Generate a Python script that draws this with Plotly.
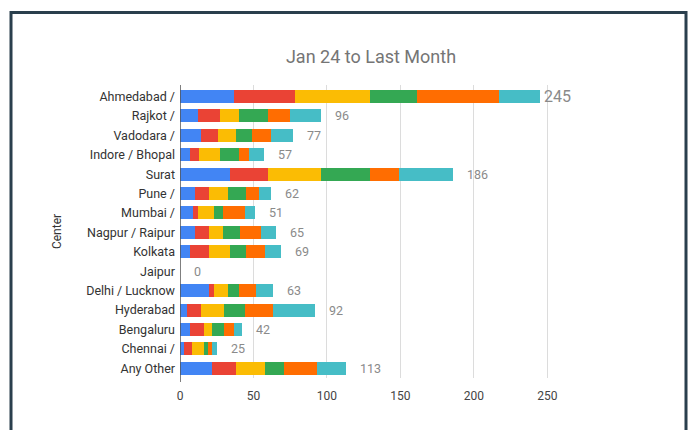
import plotly.graph_objects as go

centers = ["Ahmedabad /", "Rajkot /", "Vadodara /", "Indore / Bhopal", "Surat", "Pune /",
           "Mumbai /", "Nagpur / Raipur", "Kolkata", "Jaipur", "Delhi / Lucknow",
           "Hyderabad", "Bengaluru", "Chennai /", "Any Other"]

s1 = [37, 12, 14, 7, 34, 10, 9, 10, 7, 0, 20, 5, 7, 3, 22]
s2 = [41, 15, 12, 6, 26, 10, 3, 10, 13, 0, 3, 9, 9, 5, 16]
s3 = [51, 13, 12, 14, 36, 13, 11, 9, 14, 0, 10, 16, 6, 8, 20]
s4 = [32, 20, 11, 13, 33, 12, 6, 12, 11, 0, 7, 14, 8, 3, 13]
s5 = [56, 15, 13, 7, 20, 9, 15, 14, 13, 0, 12, 19, 7, 3, 22]
s6 = [28, 21, 15, 10, 37, 8, 7, 10, 11, 0, 11, 29, 5, 3, 20]
series = [s1, s2, s3, s4, s5, s6]
totals = [sum(v) for v in zip(*series)]
tick_vals = [0, 50, 100, 150, 200, 250]

colors = ["#4285F4", "#EA4335", "#FBBC04", "#34A853", "#FF6D01", "#46BDC6"]

fig = go.Figure()
for vals, c in zip(series, colors):
    fig.add_trace(go.Bar(y=centers, x=vals, orientation="h", marker=dict(color=c, line=dict(width=0)),
                         showlegend=False, hoverinfo="x+y"))

annotations = []
mx = max(totals)
for cat, t in zip(centers, totals):
    big = (t == mx)
    annotations.append(dict(x=t, y=cat, xref="x", yref="y", text=str(t), showarrow=False,
                            xanchor="left", xshift=2 if big else 12,
                            font=dict(family="Roboto, Liberation Sans, Arial", size=16 if big else 12.5,
                                      color="#8a8a8a")))

W, H = 689, 430
l, r, t_, b = 180, 127, 85, 52
pw, ph = W - l - r, H - t_ - b

def px(xp):
    return (xp - l) / pw

def py(yp):
    return 1 - (yp - t_) / ph

shapes = [
    dict(type="rect", xref="paper", yref="paper", x0=px(11), x1=px(686), y0=py(440), y1=py(12.5),
         line=dict(color="#2a3f4d", width=3), fillcolor="rgba(0,0,0,0)", layer="above"),
    dict(type="line", xref="x", yref="paper", x0=0, x1=0, y0=py(382), y1=1,
         line=dict(color="#555555", width=1.5), layer="above"),
]

fig.update_layout(
    barmode="stack",
    bargap=0.33,
    width=W, height=H,
    margin=dict(l=l, r=r, t=t_, b=b, pad=0),
    paper_bgcolor="white",
    plot_bgcolor="white",
    title=dict(text="Jan 24 to Last Month", x=0.5, xref="paper", xanchor="center",
               y=1 - 57 / H, yanchor="middle",
               font=dict(family="Roboto, Liberation Sans, Arial", size=18, color="#757575")),
    xaxis=dict(range=[0, 260], tickvals=tick_vals, showgrid=True, gridcolor="#dcdcdc", gridwidth=1,
               zeroline=False, showline=False, ticks="", ticklabelstandoff=9,
               tickfont=dict(family="Roboto, Liberation Sans, Arial", size=12, color="#444444")),
    yaxis=dict(autorange="reversed", showgrid=False, zeroline=False, showline=False, ticks="",
               ticklabelstandoff=4,
               title=dict(text="Center", standoff=21,
                          font=dict(family="Roboto, Liberation Sans, Arial", size=12, color="#333333")),
               tickfont=dict(family="Roboto, Liberation Sans, Arial", size=12.5, color="#333333")),
    annotations=annotations,
    shapes=shapes,
    font=dict(family="Roboto, Liberation Sans, Arial"),
)

fig.write_html("out.html", config={"displayModeBar": False},
               post_script="document.body.style.margin='0';document.body.style.overflow='hidden';")
